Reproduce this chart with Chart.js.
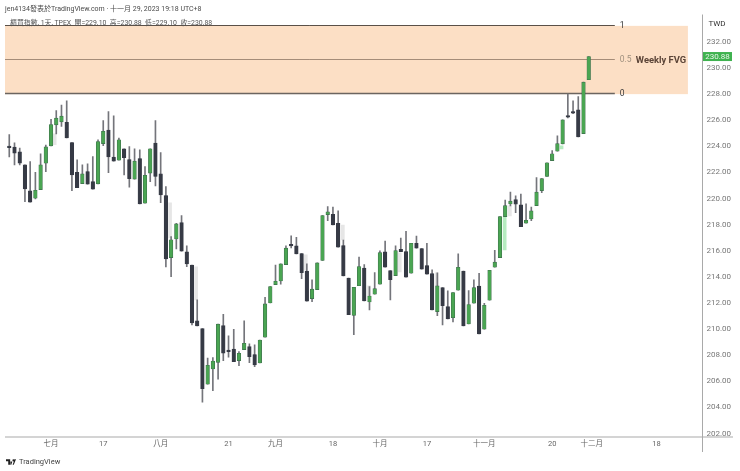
<!DOCTYPE html>
<html>
<head>
<meta charset="utf-8">
<script src="https://cdn.jsdelivr.net/npm/chart.js@4"></script>
<style>
  html, body { margin: 0; padding: 0; background: #fff; }
  body { width: 740px; height: 471px; position: relative; overflow: hidden; font-family: Roboto, "Noto Sans CJK TC", sans-serif; }
  canvas { position: absolute; left: 0; top: 0; }
  .caption { position: absolute; white-space: pre; line-height: 10px; }
  #author { left: 5px; top: 3.5px; font-size: 7px; color: #4a4a4a; }
  #legend { left: 10px; top: 18px; font-size: 6.9px; color: #555; z-index: 2; }
  #brand { left: 6px; top: 457px; font-size: 7.5px; color: #444; display: flex; align-items: center; gap: 3px; line-height: 10px; }
</style>
</head>
<body>
<canvas id="chart" width="740" height="471"></canvas>
<div class="caption" id="author">jen4134發表於TradingView.com · 十一月 29, 2023 19:18 UTC+8</div>
<div class="caption" id="legend">櫃買指數, 1天, TPEX  開=229.10  高=230.88  低=229.10  收=230.88</div>
<div class="caption" id="brand"><svg width="10" height="6" viewBox="0 0 36 20"><path fill="#222" d="M0 0h15v20H8V7H0zM27 0a4 4 0 1 1 0 8 4 4 0 0 1 0-8zM24 20l7-20h5l-8 20zM16 8h7l-4 12h-3z"/></svg>TradingView</div>
<script>
const opens = [224.0,223.94,223.58,222.58,220.59,220.03,220.69,222.71,224.04,225.65,225.88,225.85,224.29,222.02,221.15,222.07,221.3,221.13,224.21,225.24,223.17,222.94,223.81,222.99,221.49,223.07,219.65,221.95,224.25,221.89,
  220.23,215.48,216.91,218.16,215.92,214.9,210.63,210.04,205.78,206.95,207.46,210.27,208.32,208.48,207.59,208.43,208.66,208.05,207.41,209.38,212.0,213.41,213.69,214.94,216.42,216.38,215.79,214.44,212.34,213.03,
  215.26,218.77,218.8,218.1,216.4,213.92,211.06,213.33,214.67,212.08,212.67,213.44,215.92,214.48,214.1,216.12,215.94,214.28,216.58,216.17,214.87,214.25,211.34,213.18,211.72,210.88,212.98,214.44,210.4,211.98,
  213.29,209.99,212.21,214.74,215.48,218.62,219.59,219.92,219.52,218.11,218.44,219.46,220.61,221.69,222.91,223.63,224.19,226.28,226.58,226.8,224.98,229.1];
const highs = [224.9,224.27,223.86,222.58,222.84,222.02,223.43,224.09,226.08,226.74,227.16,227.49,224.29,222.97,222.58,222.66,223.22,224.5,225.98,226.67,226.34,224.63,223.81,223.98,223.81,223.73,222.45,223.81,225.98,223.52,
  220.92,217.09,218.1,218.7,216.38,214.9,212.24,210.04,207.79,207.82,210.38,211.14,209.48,209.99,208.28,210.63,208.87,208.79,209.17,212.44,213.26,214.9,215.0,216.38,217.14,217.04,215.79,215.0,213.77,215.07,
  218.7,219.39,219.34,219.07,216.83,213.92,213.21,215.51,214.94,213.26,214.33,215.99,216.74,214.48,216.38,216.97,217.5,216.58,217.12,216.17,216.58,214.54,214.31,213.18,212.93,212.8,215.76,214.44,212.95,213.77,
  214.28,211.98,214.51,216.03,218.62,219.88,220.5,220.21,220.34,219.59,219.34,221.61,221.53,222.74,223.68,224.8,226.03,228.0,227.49,227.82,228.92,230.88];
const lows = [223.2,222.58,222.58,219.77,219.72,219.98,220.69,222.07,224.04,224.96,225.52,224.65,220.61,220.84,221.15,221.1,220.72,221.13,224.06,221.99,222.87,222.94,221.82,220.87,221.49,219.59,219.65,221.3,220.97,219.69,
  214.77,214.02,216.15,215.97,214.79,210.32,210.25,204.4,205.78,205.29,206.16,207.59,207.85,207.51,207.2,208.43,207.43,207.13,207.41,209.38,212.0,213.41,213.44,214.94,216.22,215.76,213.87,212.14,212.11,213.03,
  215.26,218.31,217.98,216.28,214.08,211.11,209.58,213.33,212.16,211.47,212.67,213.44,214.74,212.24,214.1,215.94,213.98,214.28,216.2,214.59,214.21,211.47,211.03,210.32,210.78,210.55,212.98,210.25,210.4,211.98,
  209.63,209.99,212.21,214.74,215.48,218.62,219.44,218.93,217.85,218.11,218.31,219.46,220.46,221.69,222.91,223.63,224.19,226.18,226.5,224.73,224.98,229.1];
const closes = [223.9,223.48,222.71,220.74,219.72,220.64,222.58,223.96,225.67,226.16,226.31,224.65,221.82,220.84,221.89,221.1,220.72,224.37,225.16,223.2,222.87,224.5,223.14,221.53,222.87,219.59,221.79,223.81,221.69,220.28,
  215.38,216.84,218.06,215.97,215.0,210.48,210.25,205.44,207.23,207.56,210.38,208.15,208.28,207.51,208.15,208.92,207.89,207.26,209.17,211.93,213.26,213.67,215.0,216.2,216.38,215.76,214.33,212.14,213.06,215.07,
  218.7,218.98,217.98,216.28,214.08,211.11,213.21,214.79,212.16,212.54,213.1,215.86,214.74,213.79,216.02,215.94,213.98,216.58,216.2,214.59,214.21,211.47,213.31,211.8,210.78,212.8,214.74,210.25,211.88,213.18,
  209.63,211.83,214.51,215.13,218.62,219.46,219.8,219.58,217.85,218.34,219.06,220.49,221.53,222.74,223.43,224.21,226.03,226.24,226.55,224.73,228.92,230.88];

// pale smears beside some candles: index, top, bottom
const greyGhostX = [8.7,30.8,35.8,56.8,63.9,68.9,74.8,81.9,95.9];
const greyGhostHi = [224.96,219.67,214.77,215.69,217.98,213.31,215.84,214.31,219.44];
const greyGhostLo = [224.12,216.99,212.24,214.54,216.83,212.54,214.38,213.31,218.67];
const greenGhostX = [94.9,105.8];
const greenGhostHi = [218.6,224.04];
const greenGhostLo = [216.07,223.81];

const priceTicks = [232,230,228,226,224,222,220,218,216,214,212,210,208,206,204,202];
const timeTickIndex = [8,18,29,42,51,62,71,80,91,104,111.6,124];
const timeTickLabels = ["七月","17","八月","21","九月","18","十月","17","十一月","20","十二月","18"];

const fvgLevels = [233.23,230.63,228];
const fvgLevelLabels = ["1","0.5","0"];
const fvgName = "Weekly FVG";
const fvgBoxEnd = 130;
const fvgLineEnd = 116;
const lastPrice = 230.88;
const currency = "TWD";

const GREEN = "#4aa552", GREEN_EDGE = "#3d6b4c", DARK = "#363a45";
const FONT = 'Roboto, "Noto Sans CJK TC", sans-serif';

const candleColor = (i) => (closes[i] >= opens[i] ? GREEN : DARK);
const candleEdge = (i) => (closes[i] >= opens[i] ? GREEN_EDGE : DARK);

// fvg box goes under the candles, its lines and texts and the axis frame too
const fvgPlugin = {
  id: "fvg",
  beforeDatasetsDraw(chart) {
    const { ctx, scales: { x, y }, chartArea } = chart;
    const boxRight = x.getPixelForValue(fvgBoxEnd);
    const lineRight = x.getPixelForValue(fvgLineEnd);
    const top = y.getPixelForValue(fvgLevels[0]);
    const bottom = y.getPixelForValue(fvgLevels[2]);
    ctx.save();
    ctx.fillStyle = "#fcdfc5";
    ctx.fillRect(chartArea.left, top, boxRight - chartArea.left, bottom - top);
    const lineColors = ["#5a5048", "#a58c78", "#6b6560"];
    const lineWidths = [1, 1, 1.4];
    const textColors = ["#3a3a3a", "#a0917f", "#3a3a3a"];
    fvgLevels.forEach((level, k) => {
      const py = Math.round(y.getPixelForValue(level)) - 0.5;
      ctx.strokeStyle = lineColors[k];
      ctx.lineWidth = lineWidths[k];
      ctx.beginPath();
      ctx.moveTo(chartArea.left, py);
      ctx.lineTo(lineRight, py);
      ctx.stroke();
      ctx.fillStyle = textColors[k];
      ctx.font = "8.5px " + FONT;
      ctx.textBaseline = "middle";
      ctx.textAlign = "left";
      ctx.fillText(fvgLevelLabels[k], lineRight + 5, py + 0.5);
    });
    ctx.fillStyle = "#5c4538";
    ctx.font = "bold 9.4px " + FONT;
    ctx.fillText(fvgName, lineRight + 21, y.getPixelForValue(fvgLevels[1]) + 0.5);
    ctx.restore();
  },
  afterDraw(chart) {
    const { ctx, scales: { y }, chartArea } = chart;
    ctx.save();
    ctx.strokeStyle = "#a9a9a9";
    ctx.lineWidth = 1;
    ctx.beginPath();
    ctx.moveTo(chartArea.left, chartArea.bottom - 0.5);
    ctx.lineTo(733, chartArea.bottom - 0.5);
    ctx.moveTo(chartArea.right + 0.5, 14.5);
    ctx.lineTo(chartArea.right + 0.5, 452);
    ctx.stroke();
    // last price tag
    const py = y.getPixelForValue(lastPrice);
    ctx.fillStyle = "#3fb24f";
    ctx.fillRect(chartArea.right + 1, py - 4.5, 29, 9);
    ctx.fillStyle = "#e8f5e9";
    ctx.font = "8px " + FONT;
    ctx.textAlign = "center";
    ctx.textBaseline = "middle";
    ctx.fillText(lastPrice.toFixed(2), chartArea.right + 15.5, py + 0.5);
    ctx.fillStyle = "#333";
    ctx.fillText(currency, chartArea.right + 15, 24);
    ctx.restore();
  },
};

const candleIndex = opens.map((_, i) => i);

new Chart(document.getElementById("chart"), {
  type: "bar",
  data: {
    datasets: [
      {
        label: "ghost grey",
        data: greyGhostX.map((v, k) => ({ x: v, y: [greyGhostLo[k], greyGhostHi[k]] })),
        backgroundColor: "#e6e6e6",
        barThickness: 3,
        order: 4,
      },
      {
        label: "ghost green",
        data: greenGhostX.map((v, k) => ({ x: v, y: [greenGhostLo[k], greenGhostHi[k]] })),
        backgroundColor: "#b6ecc0",
        barThickness: 3,
        order: 3,
      },
      {
        label: "wicks",
        data: candleIndex.map((i) => ({ x: i, y: [lows[i], highs[i]] })),
        backgroundColor: "#74757b",
        barThickness: 1,
        order: 2,
      },
      {
        label: "bodies",
        data: candleIndex.map((i) => ({ x: i, y: [opens[i], closes[i]] })),
        backgroundColor: candleIndex.map(candleColor),
        borderColor: candleIndex.map(candleEdge),
        borderWidth: 0.6,
        borderSkipped: false,
        barThickness: 3.6,
        minBarLength: 1.5,
        order: 1,
      },
    ],
  },
  options: {
    responsive: false,
    animation: false,
    layout: { padding: { left: 5, top: 14.5, right: 0, bottom: 0 } },
    plugins: { legend: { display: false }, tooltip: { enabled: false } },
    datasets: { bar: { grouped: false } },
    scales: {
      x: {
        type: "linear",
        offset: false,
        min: -0.82,
        max: 132.7,
        grid: { display: false, drawTicks: false },
        border: { display: false },
        afterFit(scale) { scale.height = 33.5; },
        afterBuildTicks(scale) { scale.ticks = timeTickIndex.map((v) => ({ value: v })); },
        ticks: {
          autoSkip: false,
          maxRotation: 0,
          padding: 2.5,
          color: "#666",
          font: { size: 7.5, family: FONT },
          callback: (value) => timeTickLabels[timeTickIndex.indexOf(value)],
        },
      },
      y: {
        position: "right",
        min: 201.7,
        max: 234.1,
        grid: { display: false, drawTicks: false },
        border: { display: false },
        afterFit(scale) { scale.width = 38; },
        afterBuildTicks(scale) { scale.ticks = priceTicks.map((v) => ({ value: v })); },
        ticks: {
          autoSkip: false,
          padding: 4.5,
          color: "#777",
          font: { size: 8, family: FONT },
          callback: (value) => value.toFixed(2),
        },
      },
    },
  },
  plugins: [fvgPlugin],
});
</script>
</body>
</html>
